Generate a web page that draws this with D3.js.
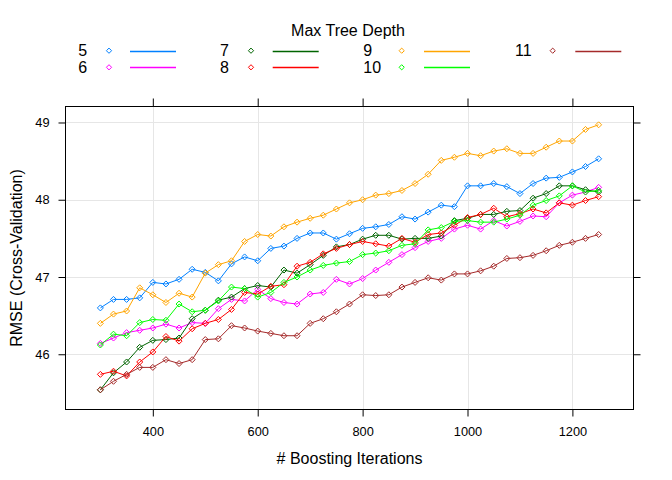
<!DOCTYPE html>
<html>
<head>
<meta charset="utf-8">
<script src="https://cdn.jsdelivr.net/npm/d3@7/dist/d3.min.js"></script>
<style>
  html, body { margin: 0; padding: 0; background: #fff; }
  svg { display: block; font-family: "Liberation Sans", Arial, Helvetica, sans-serif; }
</style>
</head>
<body>
<svg id="chart" width="672" height="480"></svg>
<script>
// ---------------- data ----------------
const iterations = [300, 325, 350, 375, 400, 425, 450, 475, 500, 525, 550, 575, 600, 625, 650, 675, 700, 725, 750, 775,
                    800, 825, 850, 875, 900, 925, 950, 975, 1000, 1025, 1050, 1075, 1100, 1125, 1150, 1175, 1200, 1225, 1250];
const depths = [5, 6, 7, 8, 9, 10, 11];
const depth5  = [46.60, 46.71, 46.71, 46.73, 46.93, 46.91, 46.97, 47.10, 47.06, 46.95, 47.17, 47.26, 47.21, 47.37, 47.40, 47.50, 47.57, 47.57, 47.49, 47.56,
                 47.63, 47.65, 47.68, 47.78, 47.75, 47.84, 47.93, 47.91, 48.18, 48.18, 48.21, 48.17, 48.08, 48.21, 48.28, 48.29, 48.36, 48.43, 48.53];
const depth6  = [46.14, 46.21, 46.28, 46.31, 46.34, 46.39, 46.34, 46.41, 46.40, 46.59, 46.71, 46.69, 46.84, 46.72, 46.67, 46.65, 46.78, 46.80, 46.97, 46.91,
                 46.98, 47.09, 47.19, 47.29, 47.38, 47.46, 47.50, 47.62, 47.67, 47.62, 47.73, 47.66, 47.72, 47.79, 47.78, 47.96, 48.06, 48.10, 48.16];
const depth7  = [45.54, 45.76, 45.90, 46.09, 46.18, 46.19, 46.21, 46.46, 46.57, 46.70, 46.74, 46.85, 46.89, 46.87, 47.09, 47.05, 47.16, 47.28, 47.39, 47.42,
                 47.49, 47.54, 47.54, 47.49, 47.50, 47.50, 47.53, 47.73, 47.76, 47.81, 47.81, 47.85, 47.86, 48.02, 48.08, 48.18, 48.18, 48.13, 48.10];
const depth8  = [45.74, 45.78, 45.72, 45.90, 46.03, 46.23, 46.17, 46.33, 46.40, 46.45, 46.58, 46.80, 46.78, 46.88, 46.90, 47.14, 47.19, 47.30, 47.37, 47.42,
                 47.46, 47.43, 47.40, 47.50, 47.45, 47.55, 47.57, 47.67, 47.77, 47.81, 47.89, 47.78, 47.82, 47.88, 47.83, 47.96, 47.93, 47.99, 48.04];
const depth9  = [46.40, 46.52, 46.56, 46.86, 46.77, 46.67, 46.79, 46.74, 47.05, 47.16, 47.21, 47.46, 47.55, 47.53, 47.65, 47.71, 47.76, 47.80, 47.88, 47.96,
                 48.00, 48.06, 48.08, 48.12, 48.21, 48.33, 48.51, 48.55, 48.60, 48.57, 48.63, 48.66, 48.60, 48.60, 48.68, 48.76, 48.76, 48.91, 48.97];
const depth10 = [46.12, 46.26, 46.24, 46.41, 46.45, 46.44, 46.65, 46.55, 46.57, 46.69, 46.87, 46.85, 46.74, 46.80, 46.93, 47.00, 47.09, 47.15, 47.18, 47.20,
                 47.29, 47.31, 47.34, 47.41, 47.43, 47.61, 47.64, 47.72, 47.73, 47.71, 47.71, 47.75, 47.80, 47.93, 47.99, 48.05, 48.18, 48.10, 48.12];
const depth11 = [45.54, 45.65, 45.74, 45.83, 45.83, 45.93, 45.88, 45.93, 46.19, 46.20, 46.37, 46.34, 46.30, 46.27, 46.24, 46.24, 46.40, 46.46, 46.55, 46.65,
                 46.77, 46.76, 46.77, 46.87, 46.93, 46.99, 46.96, 47.04, 47.04, 47.08, 47.14, 47.24, 47.25, 47.28, 47.34, 47.41, 47.45, 47.50, 47.55];
const xTicks = [400, 600, 800, 1000, 1200];
const yTicks = [46, 47, 48, 49];
const legendTitle = "Max Tree Depth";
const xTitle = "# Boosting Iterations";
const yTitle = "RMSE (Cross-Validation)";

// ---------------- styling ----------------
const seriesValues = [depth5, depth6, depth7, depth8, depth9, depth10, depth11];
const colors = ["#0080ff", "#ff00ff", "#006400", "#ff0000", "#ffa500", "#00ff00", "#a52a2a"];
const series = depths.map((d, i) => ({
  depth: d, color: colors[i],
  points: iterations.map((it, j) => ({x: it, y: seriesValues[i][j]}))
}));

const svg = d3.select("#chart");
const pL = 65.5, pR = 633.5, pT = 106.5, pB = 409.5;
const x = d3.scaleLinear().domain([233.5, 1316.5]).range([pL, pR]);
const y = d3.scaleLinear().domain([45.285, 49.207]).range([pB, pT]);

// grid
const grid = svg.append("g");
grid.selectAll("line.vx").data(xTicks).join("line").attr("class", "vx")
  .attr("x1", d => Math.round(x(d)) + 0.5).attr("x2", d => Math.round(x(d)) + 0.5)
  .attr("y1", pT).attr("y2", pB)
  .attr("stroke", "#e6e6e6").attr("stroke-width", 1);
grid.selectAll("line.hy").data(yTicks).join("line").attr("class", "hy")
  .attr("y1", d => Math.round(y(d)) + 0.5).attr("y2", d => Math.round(y(d)) + 0.5)
  .attr("x1", pL).attr("x2", pR)
  .attr("stroke", "#e6e6e6").attr("stroke-width", 1);

// axes (ticks on all sides, labels bottom/left)
const tickFont = "12.8px";
function styleAxis(g) {
  g.select(".domain").remove();
  g.selectAll(".tick line").attr("stroke", "#000").attr("stroke-width", 1);
  g.selectAll(".tick text").attr("fill", "#000").style("font-size", tickFont)
    .style("font-family", '"Liberation Sans", Arial, sans-serif');
}
svg.append("g").attr("transform", `translate(0,${pB})`)
  .call(d3.axisBottom(x).tickValues(xTicks).tickSize(7).tickPadding(10).tickFormat(d3.format("d")))
  .call(styleAxis);
svg.append("g").attr("transform", `translate(0,${pT})`)
  .call(d3.axisTop(x).tickValues(xTicks).tickSize(8).tickFormat(""))
  .call(styleAxis);
svg.append("g").attr("transform", `translate(${pL},0)`)
  .call(d3.axisLeft(y).tickValues(yTicks).tickSize(7).tickPadding(9).tickFormat(d3.format("d")))
  .call(styleAxis);
svg.append("g").attr("transform", `translate(${pR},0)`)
  .call(d3.axisRight(y).tickValues(yTicks).tickSize(7).tickFormat(""))
  .call(styleAxis);

// series
const line = d3.line().x(d => x(d.x)).y(d => y(d.y));
const diamond = (cx, cy, r) => `M${cx},${cy - r}L${cx + r},${cy}L${cx},${cy + r}L${cx - r},${cy}Z`;
const sg = svg.append("g");
series.forEach(s => {
  const g = sg.append("g");
  g.append("path").datum(s.points).attr("d", line)
    .attr("fill", "none").attr("stroke", s.color).attr("stroke-width", 1);
  g.selectAll("path.pt").data(s.points).join("path").attr("class", "pt")
    .attr("d", d => diamond(x(d.x), y(d.y), 3))
    .attr("fill", "none").attr("stroke", s.color).attr("stroke-width", 1);
});

// panel border
svg.append("rect").attr("x", pL).attr("y", pT)
  .attr("width", pR - pL).attr("height", pB - pT)
  .attr("fill", "none").attr("stroke", "#000").attr("stroke-width", 1);

// axis titles
svg.append("text").attr("x", (pL + pR) / 2).attr("y", 463.8)
  .attr("text-anchor", "middle").style("font-size", "16px").text(xTitle);
svg.append("text").attr("transform", `translate(21.8,${(pT + pB) / 2}) rotate(-90)`)
  .attr("text-anchor", "middle").style("font-size", "16px").text(yTitle);

// legend
svg.append("text").attr("x", 348).attr("y", 36.4)
  .attr("text-anchor", "middle").style("font-size", "16px").text(legendTitle);
const colLayout = [
  {text: 78.3, sym: 109.0, l1: 130.0, l2: 176.0},
  {text: 220.0, sym: 251.0, l1: 272.7, l2: 318.7},
  {text: 363.3, sym: 401.7, l1: 424.0, l2: 470.0},
  {text: 515.0, sym: 552.7, l1: 575.3, l2: 621.3}
];
const rowCenter = [50.7, 67.3];
const lg = svg.append("g");
series.forEach((s, i) => {
  const c = colLayout[Math.floor(i / 2)];
  const cy = rowCenter[i % 2];
  lg.append("text").attr("x", c.text).attr("y", cy + 5.7)
    .style("font-size", "16px").text(String(s.depth));
  lg.append("path").attr("d", diamond(c.sym, cy, 2.6))
    .attr("fill", "none").attr("stroke", s.color).attr("stroke-width", 1);
  lg.append("line").attr("x1", c.l1).attr("x2", c.l2)
    .attr("y1", Math.round(cy) + 0.5).attr("y2", Math.round(cy) + 0.5)
    .attr("stroke", s.color).attr("stroke-width", 1.3);
});
</script>
</body>
</html>
